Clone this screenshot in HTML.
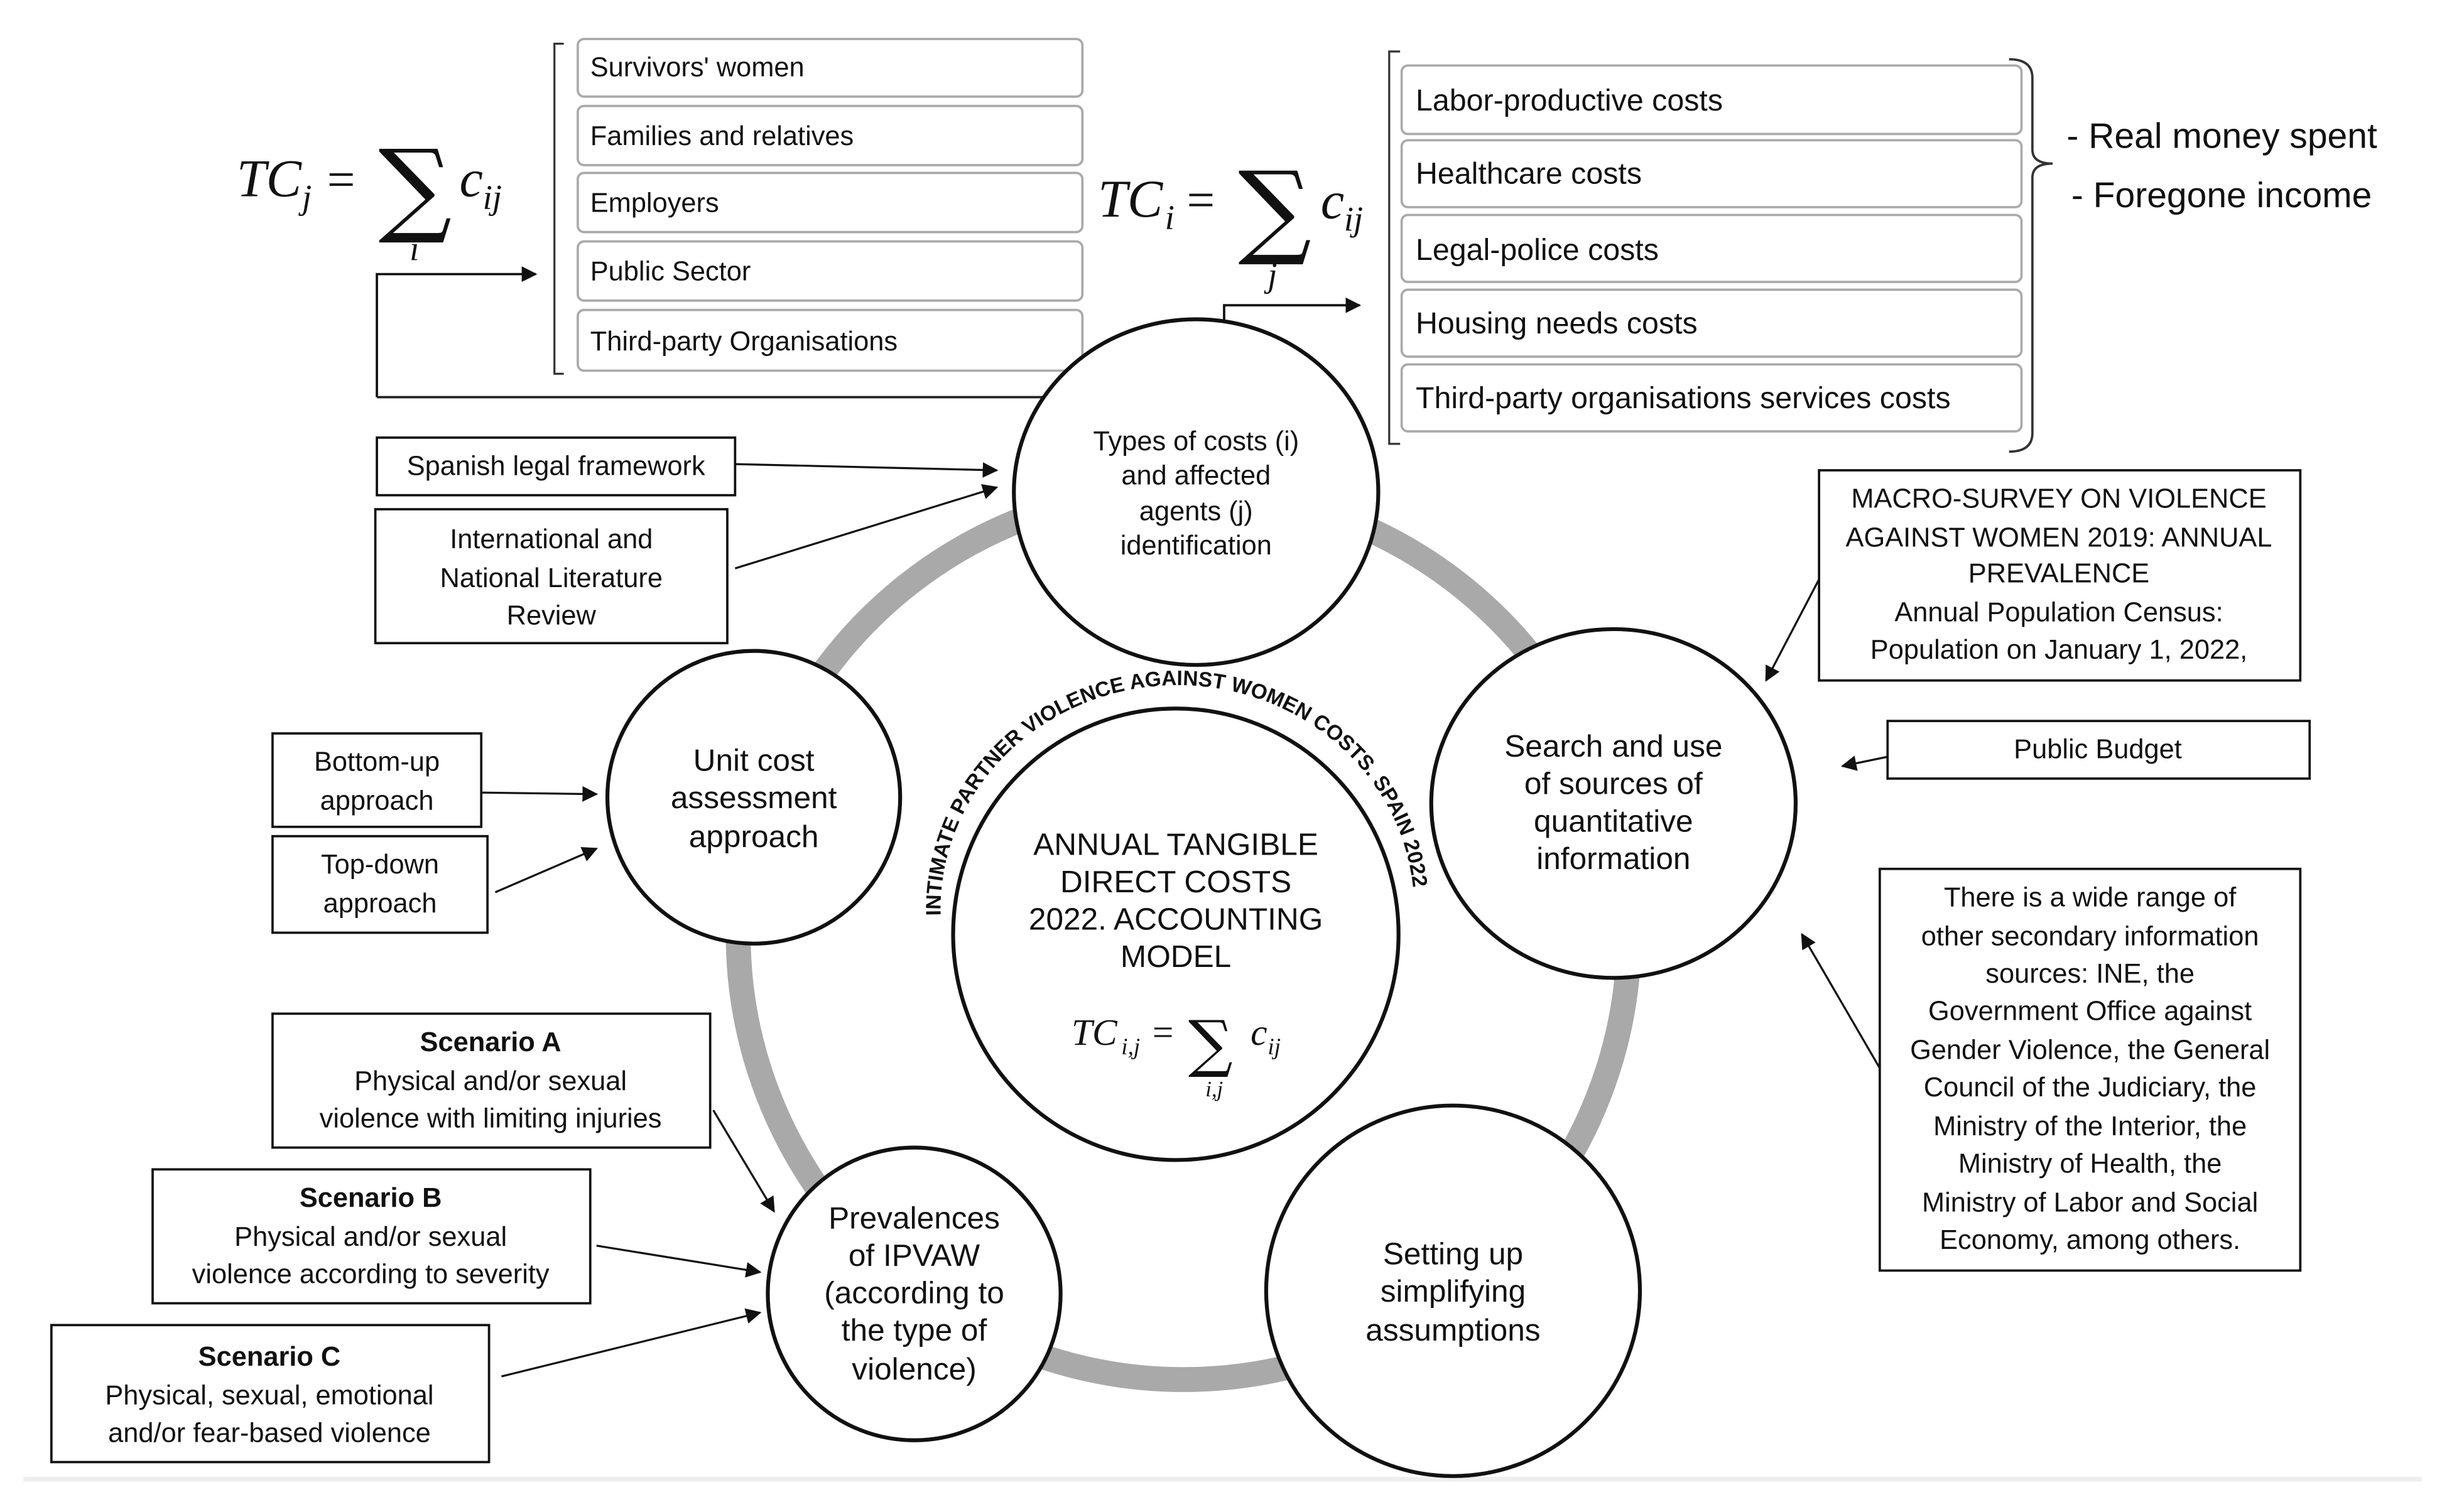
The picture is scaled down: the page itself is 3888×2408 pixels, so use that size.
<!DOCTYPE html>
<html><head><meta charset="utf-8"><style>
html,body{margin:0;padding:0;background:#fff;}
svg{display:block;}
text{font-family:"Liberation Sans",sans-serif;fill:#111;}
.m{font-family:"Liberation Serif",serif;font-style:italic;}
.b{font-size:17.5px;}
.c{font-size:20px;}
</style></head><body>
<svg width="3888" height="2408" viewBox="0 0 1568 971" xmlns="http://www.w3.org/2000/svg">
<defs>
<marker id="a" markerWidth="10" markerHeight="10" refX="9" refY="5" orient="auto" markerUnits="userSpaceOnUse"><path d="M0,0 L10,5 L0,10 z" fill="#111"/></marker>
<path id="arc" d="M604,588 A152,144 0 0,1 908,580"/>
</defs>
<rect width="1568" height="971" fill="#fff"/>
<circle cx="760" cy="600" r="286" fill="none" stroke="#a9a9a9" stroke-width="16"/>
<line x1="15" y1="950" x2="1555" y2="950" stroke="#eee" stroke-width="3"/>

<path d="M362,28 H356 V240 H362" fill="none" stroke="#333" stroke-width="1.3"/>
<g fill="#fff" stroke="#aaa" stroke-width="1.5">
<rect x="371" y="25" width="324" height="37" rx="4"/>
<rect x="371" y="68" width="324" height="38" rx="4"/>
<rect x="371" y="111" width="324" height="38" rx="4"/>
<rect x="371" y="155" width="324" height="38" rx="4"/>
<rect x="371" y="199" width="324" height="39" rx="4"/>
</g>
<g class="b">
<text x="379" y="49">Survivors' women</text>
<text x="379" y="93">Families and relatives</text>
<text x="379" y="136">Employers</text>
<text x="379" y="180">Public Sector</text>
<text x="379" y="225">Third-party Organisations</text>
</g>
<text class="m" x="152" y="126" font-size="34">TC</text><text class="m" x="194" y="134" font-size="22">j</text>
<text x="210" y="126" font-size="32" style="font-family:'Liberation Serif',serif">=</text>
<text x="243" y="143" font-size="66" style="font-family:'DejaVu Serif',serif">∑</text>
<text class="m" x="295" y="126" font-size="34">c</text><text class="m" x="310" y="134" font-size="22">ij</text>
<text class="m" x="263" y="167" font-size="22">i</text>
<path d="M242,255 V176 H344" fill="none" stroke="#111" stroke-width="1.5" marker-end="url(#a)"/>
<line x1="242" y1="255" x2="695" y2="255" stroke="#222" stroke-width="1.5"/>

<path d="M899,33 H892 V285 H899" fill="none" stroke="#333" stroke-width="1.3"/>
<path d="M1290,38 Q1305,38 1305,50 V96 Q1305,105 1318,105 Q1305,105 1305,114 V278 Q1305,290 1290,290" fill="none" stroke="#333" stroke-width="1.5"/>
<g fill="#fff" stroke="#aaa" stroke-width="1.5">
<rect x="900" y="42" width="398" height="44" rx="4"/>
<rect x="900" y="90" width="398" height="43" rx="4"/>
<rect x="900" y="138" width="398" height="43" rx="4"/>
<rect x="900" y="186" width="398" height="43" rx="4"/>
<rect x="900" y="234" width="398" height="43" rx="4"/>
</g>
<g style="font-size:19.5px">
<text x="909" y="71">Labor-productive costs</text>
<text x="909" y="118">Healthcare costs</text>
<text x="909" y="167">Legal-police costs</text>
<text x="909" y="214">Housing needs costs</text>
<text x="909" y="262">Third-party organisations services costs</text>
</g>
<text x="1327" y="95" font-size="23">- Real money spent</text>
<text x="1330" y="133" font-size="23">- Foregone income</text>
<text class="m" x="705" y="139" font-size="34">TC</text><text class="m" x="748" y="147" font-size="22">i</text>
<text x="762" y="139" font-size="32" style="font-family:'Liberation Serif',serif">=</text>
<text x="795" y="157" font-size="66" style="font-family:'DejaVu Serif',serif">∑</text>
<text class="m" x="848" y="140" font-size="34">c</text><text class="m" x="863" y="148" font-size="22">ij</text>
<text class="m" x="814" y="184" font-size="22">j</text>
<path d="M786,222 V196 H873" fill="none" stroke="#111" stroke-width="1.5" marker-end="url(#a)"/>

<g fill="#fff" stroke="#111" stroke-width="2.5">
<ellipse cx="768" cy="316" rx="117" ry="111"/>
<circle cx="484" cy="512" r="94"/>
<ellipse cx="1036" cy="516" rx="117" ry="112"/>
<circle cx="587" cy="831" r="94"/>
<ellipse cx="933" cy="829" rx="120" ry="119"/>
<ellipse cx="755" cy="600" rx="143" ry="145"/>
</g>
<g class="b" text-anchor="middle">
<text x="768" y="289">Types of costs (i)</text>
<text x="768" y="311">and affected</text>
<text x="768" y="334">agents (j)</text>
<text x="768" y="356">identification</text>
</g>
<g class="c" text-anchor="middle">
<text x="484" y="495">Unit cost</text>
<text x="484" y="519">assessment</text>
<text x="484" y="544">approach</text>
<text x="1036" y="486">Search and use</text>
<text x="1036" y="510">of sources of</text>
<text x="1036" y="534">quantitative</text>
<text x="1036" y="558">information</text>
<text x="587" y="789">Prevalences</text>
<text x="587" y="813">of IPVAW</text>
<text x="587" y="837">(according to</text>
<text x="587" y="861">the type of</text>
<text x="587" y="886">violence)</text>
<text x="933" y="812">Setting up</text>
<text x="933" y="836">simplifying</text>
<text x="933" y="861">assumptions</text>
<text x="755" y="549">ANNUAL TANGIBLE</text>
<text x="755" y="573">DIRECT COSTS</text>
<text x="755" y="597">2022. ACCOUNTING</text>
<text x="755" y="621">MODEL</text>
</g>
<text class="m" x="688" y="671" font-size="24">TC</text><text class="m" x="720" y="677" font-size="15">i,j</text>
<text x="740" y="671" font-size="24" style="font-family:'Liberation Serif',serif">=</text>
<text x="763" y="684" font-size="40" style="font-family:'DejaVu Serif',serif">∑</text>
<text class="m" x="803" y="671" font-size="24">c</text><text class="m" x="814" y="677" font-size="15">ij</text>
<text class="m" x="774" y="704" font-size="14">i,j</text>
<text font-size="13.5" font-weight="bold"><textPath href="#arc" textLength="455" lengthAdjust="spacingAndGlyphs">INTIMATE PARTNER VIOLENCE AGAINST WOMEN COSTS. SPAIN 2022</textPath></text>

<g fill="#fff" stroke="#111" stroke-width="1.5">
<rect x="242" y="281" width="230" height="37"/>
<rect x="241" y="327" width="226" height="86"/>
<rect x="175" y="471" width="134" height="60"/>
<rect x="175" y="537" width="138" height="62"/>
<rect x="175" y="651" width="281" height="86"/>
<rect x="98" y="751" width="281" height="86"/>
<rect x="33" y="851" width="281" height="88"/>
<rect x="1168" y="302" width="309" height="135"/>
<rect x="1212" y="463" width="271" height="37"/>
<rect x="1207" y="558" width="270" height="258"/>
</g>
<g fill="none" stroke="#111" stroke-width="1.3" marker-end="url(#a)">
<line x1="472" y1="298" x2="640" y2="302"/>
<line x1="472" y1="365" x2="640" y2="313"/>
<line x1="309" y1="509" x2="383" y2="510"/>
<line x1="318" y1="573" x2="383" y2="545"/>
<line x1="458" y1="713" x2="497" y2="778"/>
<line x1="383" y1="800" x2="488" y2="817"/>
<line x1="322" y1="884" x2="488" y2="843"/>
<line x1="1168" y1="372" x2="1134" y2="437"/>
<line x1="1212" y1="486" x2="1183" y2="492"/>
<line x1="1207" y1="686" x2="1157" y2="600"/>
</g>
<g class="b" text-anchor="middle">
<text x="357" y="305">Spanish legal framework</text>
<text x="354" y="352">International and</text>
<text x="354" y="377">National Literature</text>
<text x="354" y="401">Review</text>
<text x="242" y="495">Bottom-up</text>
<text x="242" y="520">approach</text>
<text x="244" y="561">Top-down</text>
<text x="244" y="586">approach</text>
<text x="315" y="675" font-weight="bold">Scenario A</text>
<text x="315" y="700">Physical and/or sexual</text>
<text x="315" y="724">violence with limiting injuries</text>
<text x="238" y="775" font-weight="bold">Scenario B</text>
<text x="238" y="800">Physical and/or sexual</text>
<text x="238" y="824">violence according to severity</text>
<text x="173" y="877" font-weight="bold">Scenario C</text>
<text x="173" y="902">Physical, sexual, emotional</text>
<text x="173" y="926">and/or fear-based violence</text>
<text x="1322" y="326">MACRO-SURVEY ON VIOLENCE</text>
<text x="1322" y="351">AGAINST WOMEN 2019: ANNUAL</text>
<text x="1322" y="374">PREVALENCE</text>
<text x="1322" y="399">Annual Population Census:</text>
<text x="1322" y="423">Population on January 1, 2022,</text>
<text x="1347" y="487">Public Budget</text>
<text x="1342" y="582">There is a wide range of</text>
<text x="1342" y="607">other secondary information</text>
<text x="1342" y="631">sources: INE, the</text>
<text x="1342" y="655">Government Office against</text>
<text x="1342" y="680">Gender Violence, the General</text>
<text x="1342" y="704">Council of the Judiciary, the</text>
<text x="1342" y="729">Ministry of the Interior, the</text>
<text x="1342" y="753">Ministry of Health, the</text>
<text x="1342" y="778">Ministry of Labor and Social</text>
<text x="1342" y="802">Economy, among others.</text>
</g>
</svg>
</body></html>
